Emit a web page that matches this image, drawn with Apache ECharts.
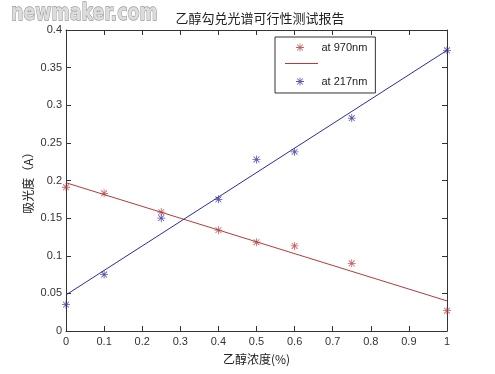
<!DOCTYPE html>
<html><head><meta charset="utf-8">
<script src="https://cdn.jsdelivr.net/npm/echarts@6/dist/echarts.min.js"></script>
<style>html,body{margin:0;padding:0;background:#fff}#c{width:495px;height:374px}</style>
</head><body><div id="c"></div>
<script>
var concentration = [0, 0.1, 0.25, 0.4, 0.5, 0.6, 0.75, 1];
var abs970 = [0.191, 0.183, 0.158, 0.134, 0.118, 0.113, 0.090, 0.027];
var abs217 = [0.035, 0.075, 0.150, 0.175, 0.228, 0.238, 0.283, 0.373];
var fit970 = [[0, 0.197], [1, 0.040]];
var fit217 = [[0, 0.048], [1, 0.373]];
var xTicks = [0, 0.1, 0.2, 0.3, 0.4, 0.5, 0.6, 0.7, 0.8, 0.9, 1];
var yTicks = [0, 0.05, 0.1, 0.15, 0.2, 0.25, 0.3, 0.35, 0.4];

var RED = '#b8383c', BLUE = '#2c2ca0';
var star = 'path://M0,4.5H10V5.5H0Z M4.5,0H5.5V10H4.5Z M1,1.7L1.7,1L9,8.3L8.3,9Z M8.3,1L9,1.7L1.7,9L1,8.3Z';
function pairs(xs, ys){ return xs.map(function(x,i){ return [x, ys[i]]; }); }
var FONT = '"Liberation Sans", Arial, "Noto Sans CJK SC", sans-serif';
var CJK = '"Noto Sans CJK SC", sans-serif';
var chart = echarts.init(document.getElementById('c'));
var axisCommon = {
  type: 'value', axisLine: {show: true, onZero: false, lineStyle: {color: '#333', width: 1}},
  axisTick: {show: true, inside: true, length: 5, lineStyle: {color: '#333'}},
  splitLine: {show: false}
};
chart.setOption({
  animation: false,
  backgroundColor: '#fff',
  textStyle: {fontFamily: FONT},
  title: {text: '乙醇勾兑光谱可行性测试报告', left: 255, top: 7, textAlign: 'center',
    textStyle: {fontSize: 13, fontWeight: 'normal', color: '#222', fontFamily: CJK}},
  graphic: [
    {type: 'text', x: 11, y: 3, scaleX: 0.76, style: {text: 'newmaker.com', font: 'bold 23px "DejaVu Sans", sans-serif',
      fill: '#dcdcdc', stroke: '#9a9a9a', lineWidth: 1.3}},
    {type: 'text', x: 28, y: 180, rotation: Math.PI / 2, z: 10,
      style: {text: '吸光度（A）', font: '12px ' + CJK, fill: '#222', align: 'center', verticalAlign: 'middle'}},
    {type: 'line', shape: {x1: 285, y1: 63.5, x2: 318, y2: 63.5}, z: 100, style: {stroke: RED, lineWidth: 1}}
  ],
  grid: {left: 66, right: 48, top: 30, bottom: 43},
  legend: {orient: 'vertical', left: 275, top: 37, itemGap: 23, padding: [5, 8, 6, 21],
    borderColor: '#333', borderWidth: 1, backgroundColor: '#fff', z: 50,
    itemWidth: 33, itemHeight: 8, symbolKeepAspect: true,
    textStyle: {fontSize: 11, color: '#222', fontFamily: FONT},
    data: [{name: 'at 970nm', icon: star}, {name: 'at 217nm', icon: star}]},
  xAxis: [
    Object.assign({}, axisCommon, {min: 0, max: 1, interval: 0.1, position: 'bottom',
      name: '乙醇浓度(%)', nameLocation: 'middle', nameGap: 22,
      nameTextStyle: {fontSize: 12, color: '#222', fontFamily: CJK},
      axisLabel: {fontSize: 11, color: '#333', margin: 5, formatter: function(v){ return String(+v.toFixed(2)); }}}),
    Object.assign({}, axisCommon, {min: 0, max: 1, interval: 0.1, position: 'top', axisLabel: {show: false}})
  ],
  yAxis: [
    Object.assign({}, axisCommon, {min: 0, max: 0.4, interval: 0.05, position: 'left',
      axisLabel: {fontSize: 11, color: '#333', margin: 4, formatter: function(v){ return String(+v.toFixed(2)); }}}),
    Object.assign({}, axisCommon, {min: 0, max: 0.4, interval: 0.05, position: 'right', axisLabel: {show: false}})
  ],
  series: [
    {name: 'at 970nm', type: 'scatter', data: pairs(concentration, abs970), symbol: star, symbolSize: 8,
      itemStyle: {color: RED}, z: 3},
    {name: 'fit 970nm', type: 'line', data: fit970, symbol: 'none', lineStyle: {color: RED, width: 1}, itemStyle: {color: RED}, z: 2},
    {name: 'at 217nm', type: 'scatter', data: pairs(concentration, abs217), symbol: star, symbolSize: 8,
      itemStyle: {color: BLUE}, z: 3},
    {name: 'fit 217nm', type: 'line', data: fit217, symbol: 'none', lineStyle: {color: BLUE, width: 1}, itemStyle: {color: BLUE}, z: 2}
  ]
});
</script></body></html>
